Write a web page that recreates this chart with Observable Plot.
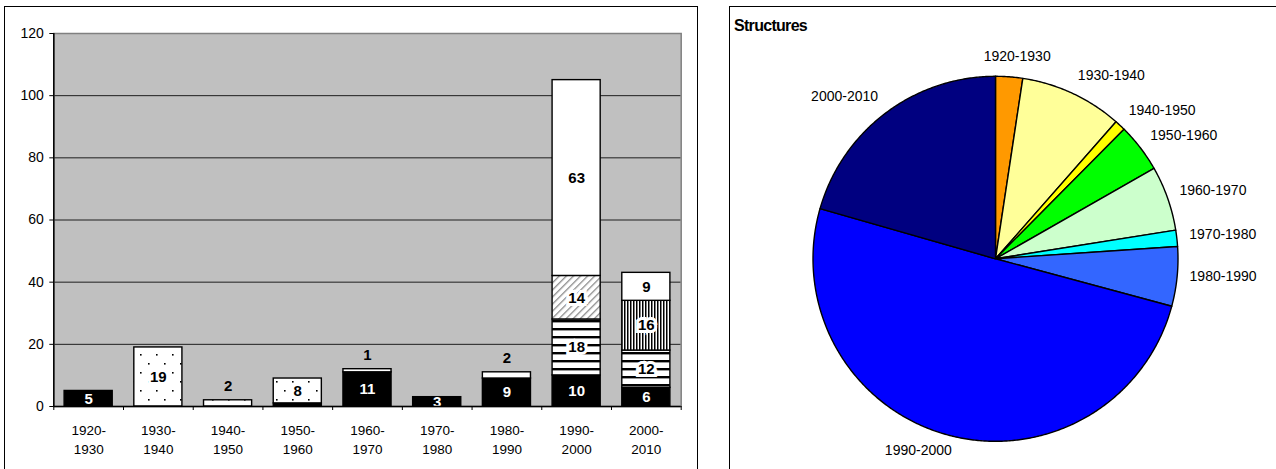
<!DOCTYPE html>
<html>
<head>
<meta charset="utf-8">
<script src="https://cdn.jsdelivr.net/npm/d3@7"></script>
<script src="https://cdn.jsdelivr.net/npm/@observablehq/plot@0.6"></script>
<style>
  html, body { margin: 0; padding: 0; background: #fff; }
  body { font-family: "Liberation Sans", Arial, sans-serif; }
  #wrap { position: relative; width: 1276px; height: 469px; overflow: hidden; }
  #left { position: absolute; left: 0; top: 0; }
  #right { position: absolute; left: 730px; top: 0; }
  .frame { position: absolute; box-sizing: border-box; border: 1.5px solid #000; }
  #leftFrame { left: 4px; top: 6px; width: 694px; height: 480px; }
  #rightFrame { left: 729px; top: 6px; width: 560px; height: 480px; }
  #title { position: absolute; left: 734px; top: 18px; font-size: 16px; letter-spacing: -0.7px; font-weight: bold; line-height: 16px; color: #000; }
</style>
</head>
<body>
<div id="wrap">
  <div class="frame" id="leftFrame"></div>
  <div class="frame" id="rightFrame"></div>
  <div id="left"></div>
  <div id="right"></div>
  <div id="title">Structures</div>
</div>
<script>
// ---------------- data ----------------
const categories = ["1920-1930", "1930-1940", "1940-1950", "1950-1960", "1960-1970", "1970-1980", "1980-1990", "1990-2000", "2000-2010"];
const seriesKeys = ["solid", "dotted", "hStripes", "hatched", "vStripes", "blank"];
const solid    = [5, 0, 0, 1, 11, 3, 9, 10, 6];
const dotted   = [0, 19, 2, 8, 0, 0, 0, 0, 0];
const hStripes = [0, 0, 0, 0, 0, 0, 0, 18, 12];
const hatched  = [0, 0, 0, 0, 0, 0, 0, 14, 0];
const vStripes = [0, 0, 0, 0, 0, 0, 0, 0, 16];
const blank    = [0, 0, 0, 0, 1, 0, 2, 63, 9];
const yTicks = [0, 20, 40, 60, 80, 100, 120];
const pieTitle = "Structures";
const pieValues = [5, 19, 2, 9, 12, 3, 11, 105, 43];
const pieColors = ["#FF9900", "#FFFF99", "#FFFF00", "#00FF00", "#CCFFCC", "#00FFFF", "#3366FF", "#0000FF", "#000080"];
const seriesFills = ["#000000", "url(#pDots)", "url(#pH)", "url(#pHatch)", "url(#pV)", "#ffffff"];

// ---------------- bar chart ----------------
const seriesValues = [solid, dotted, hStripes, hatched, vStripes, blank];
const segs = [];
categories.forEach((c, i) => {
  let acc = 0;
  let last = null;
  seriesKeys.forEach((s, k) => {
    const v = seriesValues[k][i];
    if (v > 0) {
      last = {cat: c, i, series: s, value: v, y1: acc, y2: acc + v, top: false};
      segs.push(last);
    }
    acc += v;
  });
  if (last) last.top = true;
});
const inside = segs.filter(d => d.value >= 3);
const above = segs.filter(d => d.value < 3 && d.top);
const inset = 0.155;
const W = 697, H = 469;

const bar = Plot.plot({
  width: W, height: H,
  marginLeft: 53.3, marginRight: 16.3, marginTop: 33, marginBottom: 63,
  style: {fontFamily: "'Liberation Sans', Arial, sans-serif", fontSize: "14px", background: "transparent", color: "#000"},
  x: {domain: [0, categories.length], axis: null},
  y: {domain: [0, 120], axis: null},
  color: {type: "ordinal", domain: seriesKeys, range: seriesFills},
  marks: [
    Plot.frame({fill: "#c0c0c0", stroke: null}),
    Plot.ruleY(yTicks.filter(t => t > 0 && t < 120), {stroke: "#1e1e1e", strokeWidth: 1}),
    Plot.frame({stroke: "#808080", strokeWidth: 1.5}),
    Plot.rectY(segs, {x1: d => d.i + inset, x2: d => d.i + 1 - inset, y1: "y1", y2: "y2", fill: "series", stroke: "#000", strokeWidth: 1.4}),
    Plot.text(inside.filter(d => d.series === "solid"), {x: d => d.i + 0.5, y: d => (d.y1 + d.y2) / 2, text: d => String(d.value), fill: "#fff", fontWeight: "bold", fontSize: 15}),
    Plot.text(inside.filter(d => d.series !== "solid"), {x: d => d.i + 0.5, y: d => (d.y1 + d.y2) / 2, text: d => String(d.value), fill: "#000", stroke: "#fff", strokeWidth: 6, strokeLinejoin: "miter", fontWeight: "bold", fontSize: 15}),
    Plot.text(above, {x: d => d.i + 0.5, y: "y2", dy: -14, text: d => String(d.value), fill: "#000", stroke: "#c0c0c0", strokeWidth: 6, strokeLinejoin: "miter", fontWeight: "bold", fontSize: 15}),
    Plot.ruleX([0], {stroke: "#000", strokeWidth: 1.5}),
    Plot.ruleY([0], {stroke: "#000", strokeWidth: 1.5}),
    Plot.axisY({ticks: yTicks, tickSize: 4, tickPadding: 6, tickFormat: d => String(d), fontSize: 14, stroke: "#000"}),
    Plot.axisX({ticks: d3.range(categories.length + 1), tickSize: 4, tickFormat: () => "", stroke: "#000"}),
    Plot.text(categories, {x: (d, i) => i + 0.5, y: 0, dy: 15, text: d => d.replace("-", "-\n"), lineAnchor: "top", lineHeight: 1.4, fontSize: 13.5, fill: "#000"})
  ]
});
d3.select(bar).insert("defs", ":first-child").html(`
  <pattern id="pDots" width="16" height="18" patternUnits="userSpaceOnUse">
    <rect width="16" height="18" fill="#fff"/>
    <rect x="4" y="3" width="1.6" height="1.6" fill="#000"/>
    <rect x="12" y="12" width="1.6" height="1.6" fill="#000"/>
  </pattern>
  <pattern id="pH" width="8" height="8" patternUnits="userSpaceOnUse">
    <rect width="8" height="8" fill="#fff"/>
    <rect y="0" width="8" height="2.4" fill="#000"/>
  </pattern>
  <pattern id="pHatch" width="5" height="5" patternUnits="userSpaceOnUse" patternTransform="rotate(45)">
    <rect width="5" height="5" fill="#fff"/>
    <rect width="1.3" height="5" fill="#8a8a8a"/>
  </pattern>
  <pattern id="pV" width="3" height="8" patternUnits="userSpaceOnUse">
    <rect width="3" height="8" fill="#fff"/>
    <rect width="1.5" height="8" fill="#000"/>
  </pattern>`);
document.getElementById("left").appendChild(bar);

// ---------------- pie chart ----------------
const PW = 546, PH = 469;
const cx = 265, cy = 258.3, R = 182.5;
const arcs = d3.pie().sort(null).value(d => d)(pieValues);
const slicePts = [];
arcs.forEach((a, k) => {
  const cat = categories[k];
  slicePts.push({cat, x: 0, y: 0});
  const n = Math.max(2, Math.ceil((a.endAngle - a.startAngle) / (Math.PI / 360)));
  for (let j = 0; j <= n; j++) {
    const t = a.startAngle + (a.endAngle - a.startAngle) * j / n;
    slicePts.push({cat, x: Math.sin(t), y: Math.cos(t)});
  }
  slicePts.push({cat, x: 0, y: 0});
});
const ctx = document.createElement("canvas").getContext("2d");
ctx.font = "14px 'Liberation Sans'";
const clamp = v => Math.max(-1, Math.min(1, v));
const pieLabels = arcs.map((a, k) => {
  const m = (a.startAngle + a.endAngle) / 2;
  const s = Math.sin(m), c = Math.cos(m);
  const w = ctx.measureText(categories[k]).width;
  const rr = (R + 12.5) / R;
  const x = rr * s + (w / 2) * clamp(2.8 * s) / R;
  const y = rr * c + (1.5 + 6 * c) / R;
  return {cat: categories[k], x, y};
});

const pie = Plot.plot({
  width: PW, height: PH,
  margin: 0,
  style: {fontFamily: "'Liberation Sans', Arial, sans-serif", fontSize: "14px", background: "transparent", color: "#000"},
  x: {domain: [-1, 1], range: [cx - R, cx + R], axis: null},
  y: {domain: [-1, 1], range: [cy + R, cy - R], axis: null},
  color: {type: "ordinal", domain: categories, range: pieColors},
  marks: [
    Plot.line(slicePts, {x: "x", y: "y", z: "cat", fill: "cat", stroke: "#000", strokeWidth: 1.4, strokeLinejoin: "round", curve: "linear"}),
    Plot.text(pieLabels, {x: "x", y: "y", text: "cat", fontSize: 14, fill: "#000", textAnchor: "middle"})
  ]
});
document.getElementById("right").appendChild(pie);
document.getElementById("title").textContent = pieTitle;
</script>
</body>
</html>
